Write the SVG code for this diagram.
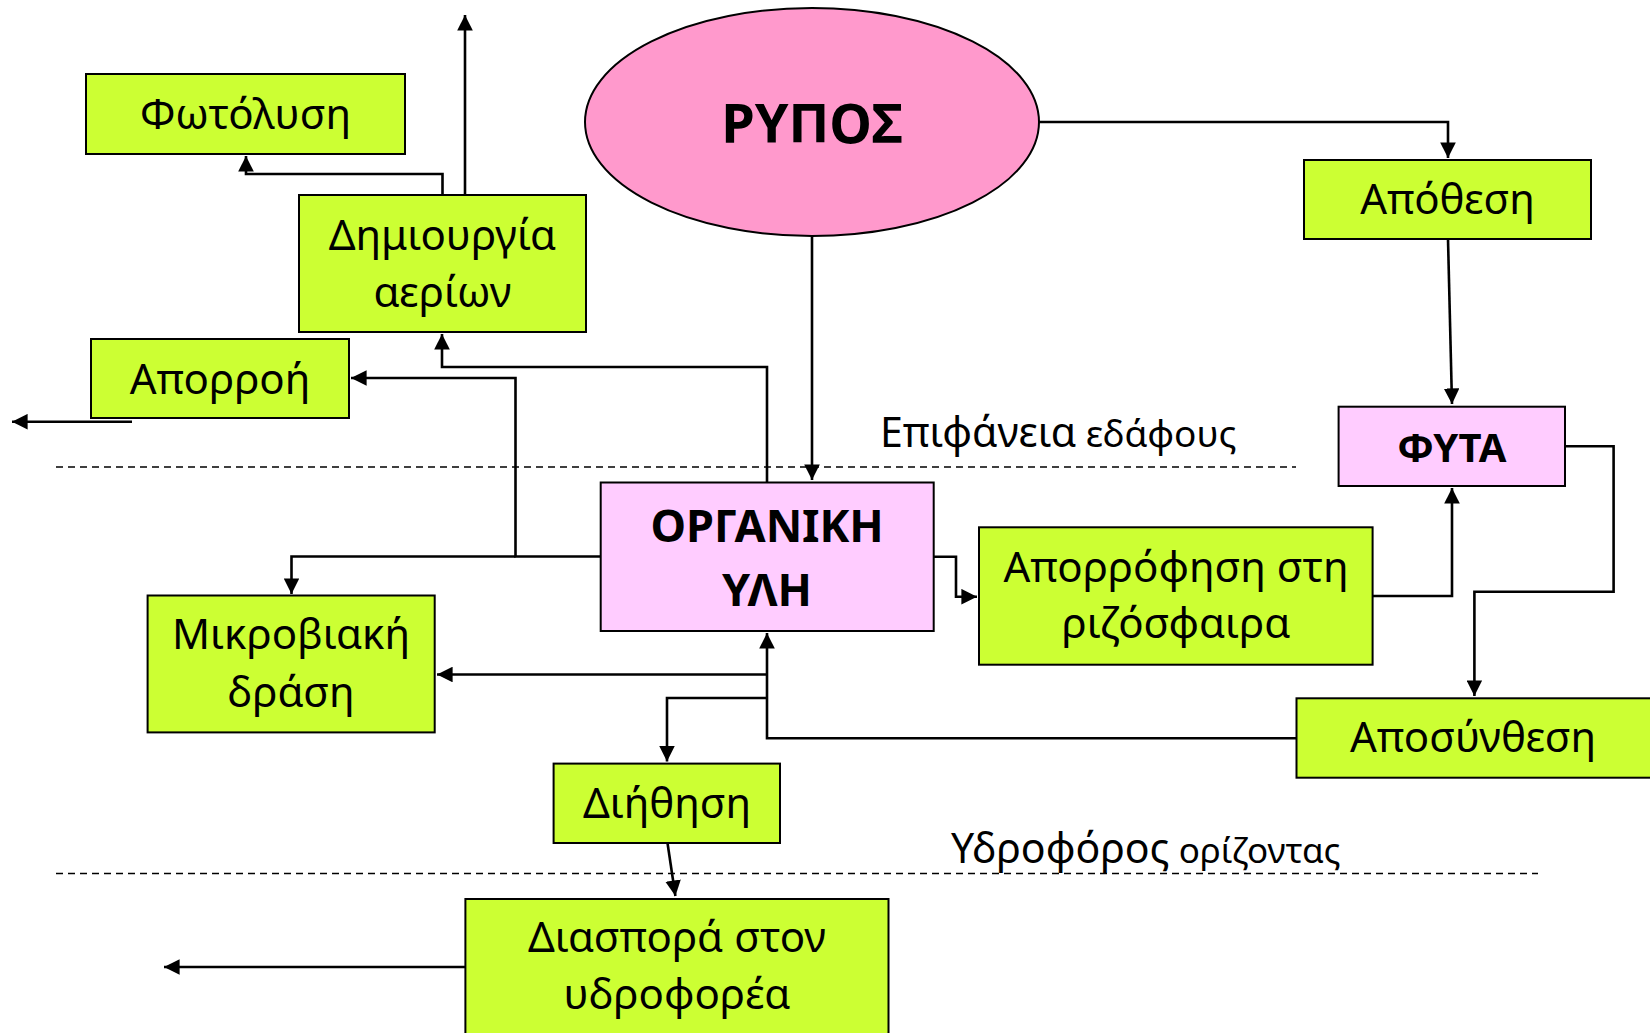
<svg xmlns="http://www.w3.org/2000/svg" width="1650" height="1033" viewBox="0 0 1650 1033">
<style>
.g{fill:#CCFF33;stroke:#000;stroke-width:2}
.p{fill:#FFCCFF;stroke:#000;stroke-width:2}
.t{font-family:"Noto Sans","Open Sans",sans-serif;font-size:42px;fill:#000;text-anchor:middle}
.b{font-family:"Noto Sans","Open Sans",sans-serif;font-weight:bold;fill:#000;text-anchor:middle}
.c{fill:none;stroke:#000;stroke-width:2.6}
.d{fill:none;stroke:#000;stroke-width:1.5;stroke-dasharray:7,5}
.lbl{font-family:"Noto Sans","Open Sans",sans-serif;fill:#000}
</style>
<defs>
<marker id="a" viewBox="0 0 10 10" refX="10" refY="5" markerWidth="6" markerHeight="6" orient="auto" markerUnits="strokeWidth">
<path d="M0,0 L10,5 L0,10 z" fill="#000"/>
</marker>
</defs>
<rect width="1650" height="1033" fill="#fff"/>
<g id="guides">
<line class="d" x1="56" y1="467" x2="1296" y2="467"/>
<line class="d" x1="56" y1="873.5" x2="1538" y2="873.5"/>
<text class="lbl" x="880" y="447"><tspan font-size="41">Επιφάνεια</tspan><tspan font-size="37"> εδάφους</tspan></text>
<text class="lbl" x="951" y="863"><tspan font-size="41">Υδροφόρος</tspan><tspan font-size="35"> ορίζοντας</tspan></text>
</g>
<g id="connectors">
<path class="c" d="M442.5,195 V174 H246 V156" marker-end="url(#a)"/>
<path class="c" d="M465,195 V15" marker-end="url(#a)"/>
<path class="c" d="M132,421.7 H12" marker-end="url(#a)"/>
<path class="c" d="M767,482 V367 H442 V334" marker-end="url(#a)"/>
<path class="c" d="M601,556.5 H515.5 V378 H351" marker-end="url(#a)"/>
<path class="c" d="M515.5,556.5 H291.5 V594" marker-end="url(#a)"/>
<path class="c" d="M812,236 V480" marker-end="url(#a)"/>
<path class="c" d="M1039,122 H1448 V158" marker-end="url(#a)"/>
<path class="c" d="M1448,239 L1452,404" marker-end="url(#a)"/>
<path class="c" d="M933.7,556.7 H956 V596.7 H977" marker-end="url(#a)"/>
<path class="c" d="M1372.6,596 H1452 V488" marker-end="url(#a)"/>
<path class="c" d="M1565,446.3 H1613.6 V591.7 H1474.4 V696" marker-end="url(#a)"/>
<path class="c" d="M1296,738.3 H767 V633" marker-end="url(#a)"/>
<path class="c" d="M767,674.5 H437" marker-end="url(#a)"/>
<path class="c" d="M767,698 H667 V761.5" marker-end="url(#a)"/>
<path class="c" d="M667.5,843 L675.4,896" marker-end="url(#a)"/>
<path class="c" d="M465,967 H164" marker-end="url(#a)"/>
</g>
<g id="rypos">
<ellipse cx="812" cy="122" rx="227" ry="114" fill="#FF99CC" stroke="#000" stroke-width="2"/>
<text class="b" x="812" y="143" font-size="54">ΡΥΠΟΣ</text>
</g>
<g id="fotolysi">
<rect class="g" x="86" y="74" width="319" height="80"/>
<text class="t" x="245.5" y="128.5">Φωτόλυση</text>
</g>
<g id="dimiourgia">
<rect class="g" x="299" y="195" width="287" height="137"/>
<text class="t" x="442.5" y="250">Δημιουργία</text>
<text class="t" x="442.5" y="307">αερίων</text>
</g>
<g id="aporroi">
<rect class="g" x="91" y="339" width="258" height="79"/>
<text class="t" x="220" y="393.5">Απορροή</text>
</g>
<g id="apothesi">
<rect class="g" x="1304" y="160" width="287" height="79"/>
<text class="t" x="1447.5" y="214">Απόθεση</text>
</g>
<g id="fyta">
<rect class="p" x="1338.6" y="406.7" width="226.4" height="79.3"/>
<text class="b" x="1452" y="461.7" font-size="40">ΦΥΤΑ</text>
</g>
<g id="organiki">
<rect class="p" x="600.7" y="482.5" width="333" height="148.5"/>
<text class="b" x="767" y="542" font-size="45">ΟΡΓΑΝΙΚΗ</text>
<text class="b" x="767" y="605.7" font-size="45">ΥΛΗ</text>
</g>
<g id="aporrofisi">
<rect class="g" x="979" y="527.3" width="393.6" height="137.4"/>
<text class="t" x="1176" y="582">Απορρόφηση στη</text>
<text class="t" x="1176" y="638">ριζόσφαιρα</text>
</g>
<g id="mikroviaki">
<rect class="g" x="147.6" y="595.5" width="287.1" height="136.9"/>
<text class="t" x="291" y="649">Μικροβιακή</text>
<text class="t" x="291" y="707">δράση</text>
</g>
<g id="aposynthesi">
<rect class="g" x="1296.5" y="698.3" width="356" height="79.4"/>
<text class="t" x="1473" y="752">Αποσύνθεση</text>
</g>
<g id="diithisi">
<rect class="g" x="553.6" y="763.6" width="226.4" height="79.4"/>
<text class="t" x="667" y="818">Διήθηση</text>
</g>
<g id="diaspora">
<rect class="g" x="465.4" y="899" width="423.1" height="140"/>
<text class="t" x="677" y="952">Διασπορά στον</text>
<text class="t" x="677" y="1009">υδροφορέα</text>
</g>
</svg>
